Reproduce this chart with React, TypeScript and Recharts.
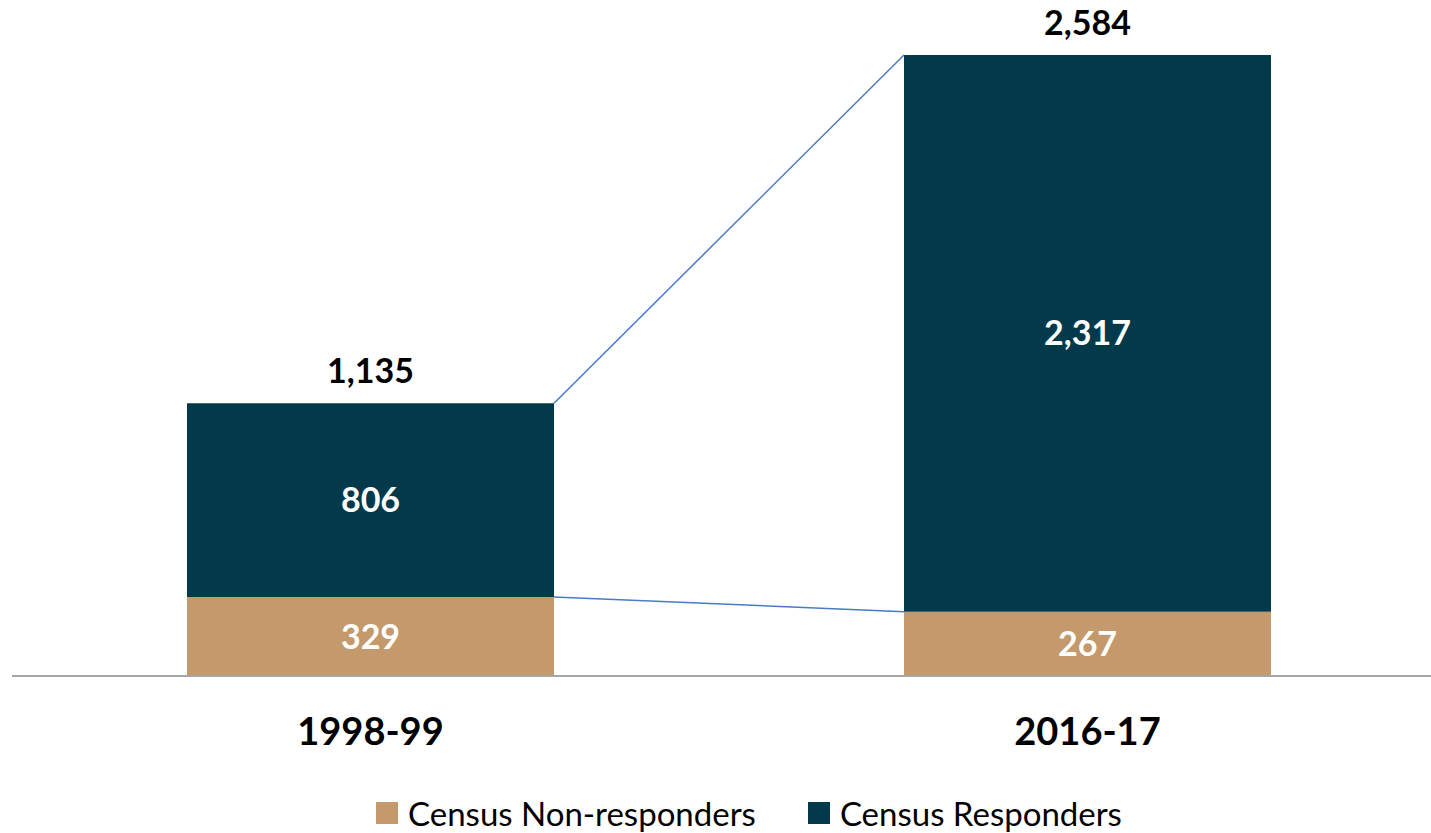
import React from "react";
import {
  BarChart,
  Bar,
  XAxis,
  YAxis,
  Legend,
  LabelList,
  ReferenceLine,
} from "recharts";

// ─── Data ─────────────────────────────────────────────────

const years = ["1998-99", "2016-17"];
const nonResponders = [329, 267];
const responders = [806, 2317];

const NON_COLOR = "#C49A6C";
const RESP_COLOR = "#023A4B";
const LINK_COLOR = "#4A7BC4";
const FONT = "Lato, 'Open Sans', sans-serif";
const BAR_SIZE = 367;

const data = years.map((year, i) => ({
  year,
  nonResponders: nonResponders[i],
  responders: responders[i],
  total: nonResponders[i] + responders[i],
}));

const fmt = (v: number) => v.toLocaleString("en-US");

// ─── Series lines (bar edge to bar edge) ──────────────────

function EdgeLine(props: any) {
  const { x1, y1, x2, y2 } = props;
  return (
    <line
      x1={x1 + BAR_SIZE / 2}
      y1={y1}
      x2={x2 - BAR_SIZE / 2}
      y2={y2}
      stroke={LINK_COLOR}
      strokeWidth={1.5}
    />
  );
}

// ─── Legend ───────────────────────────────────────────────

function LegendContent(props: any) {
  const items = props.payload ?? [];
  return (
    <div
      style={{
        display: "flex",
        justifyContent: "center",
        gap: 52,
        paddingLeft: 40,
        fontFamily: FONT,
        fontSize: 33,
        lineHeight: "40px",
        height: 40,
        color: "#000",
      }}
    >
      {items.map((it: any) => (
        <div key={it.value} style={{ display: "flex", alignItems: "center" }}>
          <span
            style={{
              width: 22,
              height: 22,
              background: it.color,
              display: "inline-block",
              marginRight: 10,
            }}
          />
          <span>{it.value}</span>
        </div>
      ))}
    </div>
  );
}

export default function App() {
  return (
    <div
      style={{
        position: "absolute",
        left: 0,
        top: 0,
        width: 1431,
        height: 833,
        overflow: "hidden",
        background: "#fff",
      }}
    >
      <BarChart
        width={1446}
        height={833}
        data={data}
        margin={{ top: 55, right: 0, bottom: 0, left: 12 }}
        barSize={BAR_SIZE}
      >
        <XAxis
          dataKey="year"
          axisLine={{ stroke: "#A6A6A6", strokeWidth: 2 }}
          tickLine={false}
          tickSize={0}
          tickMargin={42}
          height={117}
          tick={{ fontSize: 38, fontWeight: 700, fill: "#000", fontFamily: FONT }}
        />
        <YAxis hide domain={[0, "dataMax"]} />
        <Legend
          verticalAlign="bottom"
          height={40}
          content={<LegendContent />}
        />
        <Bar
          dataKey="nonResponders"
          name="Census Non-responders"
          stackId="a"
          fill={NON_COLOR}
          isAnimationActive={false}
        >
          <LabelList
            dataKey="nonResponders"
            position="center"
            formatter={(v: any) => fmt(Number(v))}
            style={{ fontSize: 34, fontWeight: 700, fill: "#fff", fontFamily: FONT }}
          />
        </Bar>
        <Bar
          dataKey="responders"
          name="Census Responders"
          stackId="a"
          fill={RESP_COLOR}
          isAnimationActive={false}
        >
          <LabelList
            dataKey="responders"
            position="center"
            formatter={(v: any) => fmt(Number(v))}
            style={{ fontSize: 34, fontWeight: 700, fill: "#fff", fontFamily: FONT }}
          />
          <LabelList
            dataKey="total"
            position="top"
            offset={20}
            formatter={(v: any) => fmt(Number(v))}
            style={{ fontSize: 34, fontWeight: 700, fill: "#000", fontFamily: FONT }}
          />
        </Bar>
        <ReferenceLine
          segment={[
            { x: years[0], y: data[0].total },
            { x: years[1], y: data[1].total },
          ]}
          shape={<EdgeLine />}
        />
        <ReferenceLine
          segment={[
            { x: years[0], y: nonResponders[0] },
            { x: years[1], y: nonResponders[1] },
          ]}
          shape={<EdgeLine />}
        />
      </BarChart>
    </div>
  );
}
